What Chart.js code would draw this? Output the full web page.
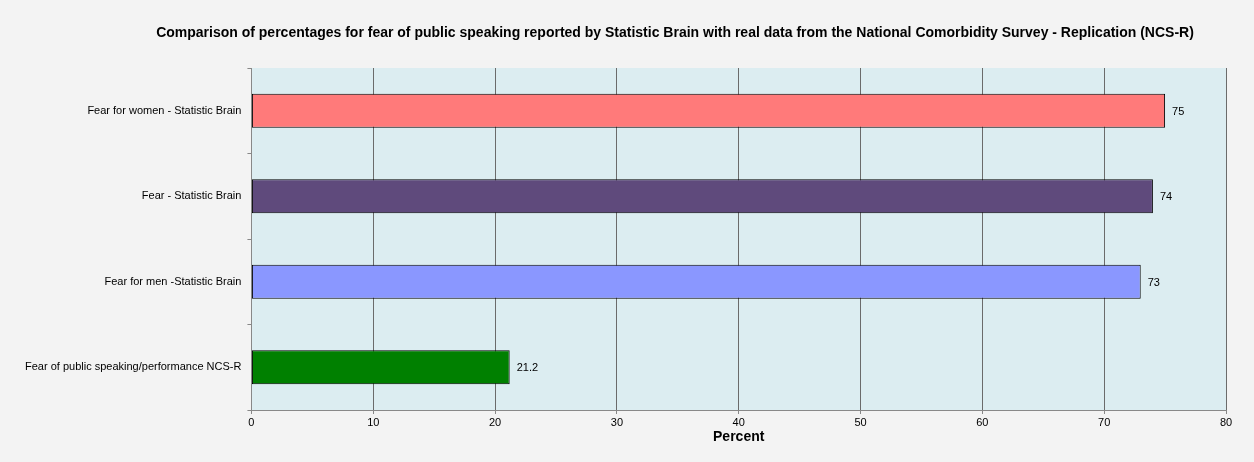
<!DOCTYPE html>
<html>
<head>
<meta charset="utf-8">
<script src="https://cdn.jsdelivr.net/npm/chart.js@4/dist/chart.umd.min.js"></script>
<style>
	html,body{margin:0;padding:0;background:#f3f3f3;}
	#wrap{width:1254px;height:462px;}
</style>
</head>
<body>
<div id="wrap"><canvas id="myChart1"></canvas></div>
<script>
// data
let categories = ['Fear for women - Statistic Brain', 'Fear - Statistic Brain', 'Fear for men -Statistic Brain', 'Fear of public speaking/performance NCS-R'];
let values = [75, 74, 73, 21.2];
let colors = ['#ff7a7a', '#5f4a7c', '#8a97ff', '#008000'];
let xTicks = [0, 10, 20, 30, 40, 50, 60, 70, 80];
let titleText = 'Comparison of percentages for fear of public speaking reported by Statistic Brain with real data from the National Comorbidity Survey - Replication (NCS-R)';

Chart.defaults.font.family = '"Liberation Sans", Arial, sans-serif';
Chart.defaults.color = '#000';

// plot area background
const bgPlugin = {
	id: 'bg',
	beforeDraw(chart){
		let a = chart.chartArea;
		let ctx = chart.ctx;
		ctx.save();
		ctx.fillStyle = '#dcedf1';
		ctx.fillRect(a.left, a.top, a.right - a.left, a.bottom - a.top);
		ctx.restore();
	}
};

// title + value labels
const labelPlugin = {
	id: 'vals',
	afterDatasetsDraw(chart){
		let ctx = chart.ctx;
		let meta = chart.getDatasetMeta(0);
		ctx.save();
		ctx.font = '11px "Liberation Sans", Arial, sans-serif';
		ctx.fillStyle = '#000';
		ctx.textBaseline = 'middle';
		meta.data.forEach((bar, i) => {
			ctx.fillText(String(values[i]), bar.x + 7, bar.y + 1);
		});
		ctx.font = 'bold 14px "Liberation Sans", Arial, sans-serif';
		ctx.textAlign = 'center';
		ctx.fillText(titleText, 675, 33);
		ctx.restore();
	}
};

const config = {
	type: 'bar',
	data: {
		labels: categories,
		datasets: [{
			data: values,
			backgroundColor: colors,
			borderColor: '#000',
			borderWidth: 1,
			borderSkipped: false,
			barPercentage: 0.4,
			categoryPercentage: 1
		}]
	},
	options: {
		indexAxis: 'y',
		responsive: true,
		maintainAspectRatio: false,
		animation: false,
		layout: {padding: {left: 19, right: 28, top: 68, bottom: 16}},
		plugins: {
			legend: {display: false},
			tooltip: {enabled: false},
			title: {display: false}
		},
		scales: {
			x: {
				min: 0, max: 80,
				afterBuildTicks(axis){ axis.ticks = xTicks.map(v => ({value: v})); },
				ticks: {font: {size: 11}, padding: 2},
				grid: {color: '#6b6b6b', lineWidth: 1, tickLength: 4, tickColor: '#888'},
				border: {color: '#888'},
				title: {display: true, text: 'Percent', font: {size: 14, weight: 'bold'}, padding: {top: -2, bottom: 0}}
			},
			y: {
				ticks: {font: {size: 11}, padding: 6},
				grid: {offset: true, drawOnChartArea: false, tickLength: 4, tickColor: '#888'},
				border: {color: '#888'}
			}
		}
	},
	plugins: [bgPlugin, labelPlugin]
};

let myChart1 = new Chart(document.getElementById('myChart1'), config);
</script>
</body>
</html>
